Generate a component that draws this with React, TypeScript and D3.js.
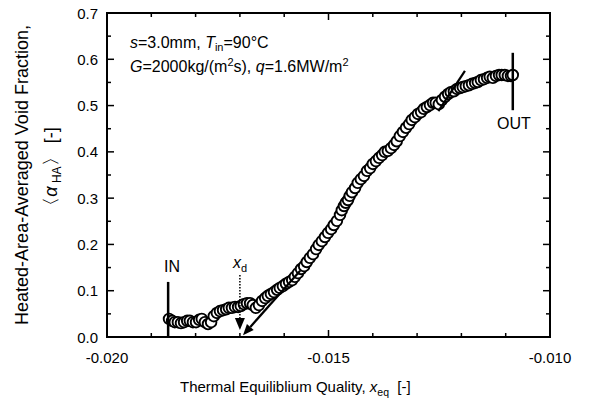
import React from "react";
import * as d3 from "d3";

// ---- data ----
const xeq = [
  -0.0186, -0.01853, -0.01847, -0.0184, -0.01833, -0.01826, -0.01819, -0.01813, -0.01806, -0.01799,
  -0.01792, -0.01786, -0.01779, -0.01772, -0.01765, -0.01759, -0.01752, -0.01745, -0.01738, -0.01731,
  -0.01725, -0.01718, -0.01711, -0.01704, -0.01698, -0.01691, -0.01684, -0.01677, -0.01671, -0.01664,
  -0.01657, -0.0165, -0.01643, -0.01637, -0.0163, -0.01623, -0.01616, -0.0161, -0.01603, -0.01596,
  -0.01589, -0.01582, -0.01576, -0.01569, -0.01562, -0.01555, -0.01549, -0.01542, -0.01535, -0.01528,
  -0.01522, -0.01515, -0.01508, -0.01501, -0.01494, -0.01488, -0.01481, -0.01474, -0.0147, -0.01465,
  -0.01461, -0.01456, -0.01452, -0.01447, -0.0144, -0.01434, -0.01427, -0.0142, -0.01413, -0.01406,
  -0.014, -0.01393, -0.01386, -0.01379, -0.01373, -0.01366, -0.01359, -0.01352, -0.01346, -0.01339,
  -0.01332, -0.01325, -0.01318, -0.01312, -0.01305, -0.01298, -0.01291, -0.01285, -0.01278, -0.01271,
  -0.01264, -0.01258, -0.01251, -0.01244, -0.01237, -0.0123, -0.01224, -0.01217, -0.0121, -0.01203,
  -0.01197, -0.0119, -0.01183, -0.01176, -0.01169, -0.01163, -0.01156, -0.01149, -0.01142, -0.01136,
  -0.01129, -0.01122, -0.01115, -0.01109, -0.01102, -0.01095, -0.01088, -0.01084,
];
const alphaHA = [
  0.039, 0.035, 0.032, 0.032, 0.03, 0.032, 0.035, 0.035, 0.032, 0.032,
  0.037, 0.039, 0.032, 0.028, 0.032, 0.045, 0.052, 0.056, 0.058, 0.06,
  0.063, 0.063, 0.065, 0.065, 0.067, 0.071, 0.073, 0.073, 0.069, 0.063,
  0.069, 0.078, 0.084, 0.089, 0.093, 0.097, 0.102, 0.106, 0.11, 0.115,
  0.119, 0.123, 0.13, 0.138, 0.147, 0.153, 0.162, 0.171, 0.179, 0.19,
  0.199, 0.207, 0.216, 0.225, 0.233, 0.242, 0.251, 0.264, 0.274, 0.283,
  0.29, 0.296, 0.305, 0.313, 0.322, 0.333, 0.341, 0.348, 0.359, 0.365,
  0.374, 0.38, 0.387, 0.393, 0.4, 0.402, 0.408, 0.415, 0.423, 0.434,
  0.443, 0.452, 0.46, 0.469, 0.475, 0.482, 0.486, 0.493, 0.497, 0.501,
  0.506, 0.506, 0.503, 0.512, 0.519, 0.525, 0.529, 0.531, 0.536, 0.538,
  0.54, 0.542, 0.544, 0.547, 0.549, 0.551, 0.555, 0.557, 0.56, 0.562,
  0.56, 0.564, 0.566, 0.566, 0.566, 0.564, 0.564, 0.566,
];
const xTickValues = [-0.02, -0.015, -0.01];
const xTickLabels = ["-0.020", "-0.015", "-0.010"];
const yTickValues = [0, 0.1, 0.2, 0.3, 0.4, 0.5, 0.6, 0.7];
const yTickLabels = ["0.0", "0.1", "0.2", "0.3", "0.4", "0.5", "0.6", "0.7"];

// annotations (data units)
const inMark = { x: -0.01862, y0: 0, y1: 0.119 };
const outMark = { x: -0.01084, y0: 0.49, y1: 0.614 };
const xdMark = { x: -0.017, yTop: 0.134, yBase: 0.041, yTip: 0.015 };
const lowerArrow = { x0: -0.01564, y0: 0.143, x1: -0.01693, y1: 0.004 };
const upperLine = { x0: -0.01252, y0: 0.488, x1: -0.01192, y1: 0.575 };

const W = 589;
const H = 400;
const M = { left: 107, right: 550, top: 13, bottom: 337 };
const FONT = "'Liberation Sans', Arial, Helvetica, sans-serif";

export default function App() {
  const x = d3.scaleLinear().domain([-0.02, -0.01]).range([M.left, M.right]);
  const y = d3.scaleLinear().domain([0, 0.7]).range([M.bottom, M.top]);
  const xMinor = x.ticks(10);
  const yMinor = y.ticks(14);
  const isMajorX = (v: number) => xTickValues.some((t) => Math.abs(t - v) < 1e-9);
  const isMajorY = (v: number) => yTickValues.some((t) => Math.abs(t - v) < 1e-9);

  const pts = xeq.map((v, i) => [x(v), y(alphaHA[i])] as [number, number]);

  // lower arrow head
  const ax0 = x(lowerArrow.x0), ay0 = y(lowerArrow.y0), ax1 = x(lowerArrow.x1), ay1 = y(lowerArrow.y1);
  const ang = Math.atan2(ay1 - ay0, ax1 - ax0);
  const hl = 11, hw = 4.5;
  const bx = ax1 - hl * Math.cos(ang), by = ay1 - hl * Math.sin(ang);
  const head = [
    [ax1, ay1],
    [bx + hw * Math.sin(ang), by - hw * Math.cos(ang)],
    [bx - hw * Math.sin(ang), by + hw * Math.cos(ang)],
  ];

  const tri = [
    [x(xdMark.x) - 5, y(xdMark.yBase)],
    [x(xdMark.x) + 5, y(xdMark.yBase)],
    [x(xdMark.x), y(xdMark.yTip)],
  ];

  return (
    <svg width={W} height={H} style={{ position: "absolute", left: 0, top: 0, background: "#fff" }} fontFamily={FONT}>
      <rect x={0} y={0} width={W} height={H} fill="#fff" />
      {/* ticks */}
      {xMinor.map((v, i) => {
        const len = isMajorX(v) ? 7 : 4;
        return (
          <g key={"xt" + i} stroke="#000" strokeWidth={1.5}>
            <line x1={x(v)} x2={x(v)} y1={M.bottom} y2={M.bottom - len} />
            <line x1={x(v)} x2={x(v)} y1={M.top} y2={M.top + len} />
          </g>
        );
      })}
      {yMinor.map((v, i) => {
        const len = isMajorY(v) ? 7 : 4;
        return (
          <g key={"yt" + i} stroke="#000" strokeWidth={1.5}>
            <line x1={M.left} x2={M.left + len} y1={y(v)} y2={y(v)} />
            <line x1={M.right} x2={M.right - len} y1={y(v)} y2={y(v)} />
          </g>
        );
      })}
      <rect x={M.left} y={M.top} width={M.right - M.left} height={M.bottom - M.top} fill="none" stroke="#000" strokeWidth={2} />

      {/* tick labels */}
      {xTickValues.map((v, i) => (
        <text key={"xl" + i} x={x(v)} y={363} textAnchor="middle" fontSize={15}>
          {xTickLabels[i]}
        </text>
      ))}
      {yTickValues.map((v, i) => (
        <text key={"yl" + i} x={98} y={y(v) + 5.5} textAnchor="end" fontSize={15}>
          {yTickLabels[i]}
        </text>
      ))}

      {/* axis titles */}
      <text x={180} y={392} fontSize={15}>
        Thermal Equiliblium Quality,{" "}
        <tspan fontStyle="italic">x</tspan>
        <tspan fontSize={10.5} dy={4}>eq</tspan>
        <tspan dy={-4}>{"\u00a0 [-]"}</tspan>
      </text>
      <g transform={`translate(28,${(M.top + M.bottom) / 2}) rotate(-90)`}>
        <text x={0} y={0} textAnchor="middle" fontSize={18}>
          Heated-Area-Averaged Void Fraction,
        </text>
      </g>
      <g transform={`translate(57,${(M.top + M.bottom) / 2 - 4}) rotate(-90)`}>
        <text x={0} y={0} textAnchor="middle" fontSize={18}>
          {"\u3008"}
          <tspan fontStyle="italic">{"\u03b1"}</tspan>
          <tspan fontSize={12} dy={4}>{" HA"}</tspan>
          <tspan dy={-4}>{"\u3009 [-]"}</tspan>
        </text>
      </g>

      {/* data */}
      {pts.map((p, i) => (
        <circle key={"c" + i} cx={p[0]} cy={p[1]} r={5.3} fill="#fff" stroke="#000" strokeWidth={1.9} />
      ))}

      {/* annotations */}
      <line x1={x(inMark.x)} x2={x(inMark.x)} y1={y(inMark.y0)} y2={y(inMark.y1)} stroke="#000" strokeWidth={2.5} />
      <text x={164} y={272} fontSize={16}>IN</text>
      <line x1={x(outMark.x)} x2={x(outMark.x)} y1={y(outMark.y0)} y2={y(outMark.y1)} stroke="#000" strokeWidth={2.5} />
      <text x={514} y={129} fontSize={16} textAnchor="middle">OUT</text>

      <line x1={x(xdMark.x)} x2={x(xdMark.x)} y1={y(xdMark.yTop)} y2={y(xdMark.yBase)} stroke="#000" strokeWidth={1.5} strokeDasharray="1.5,1.5" />
      <polygon points={tri.map((p) => p.join(",")).join(" ")} fill="#000" />
      <text x={233} y={268} fontSize={16}>
        <tspan fontStyle="italic">x</tspan>
        <tspan fontSize={11} dy={4}>d</tspan>
      </text>

      <line x1={ax0} y1={ay0} x2={bx} y2={by} stroke="#000" strokeWidth={2.2} />
      <polygon points={head.map((p) => p.join(",")).join(" ")} fill="#000" />
      <line x1={x(upperLine.x0)} y1={y(upperLine.y0)} x2={x(upperLine.x1)} y2={y(upperLine.y1)} stroke="#000" strokeWidth={2.2} />

      {/* conditions */}
      <text x={130} y={48} fontSize={16}>
        <tspan fontStyle="italic">s</tspan>=3.0mm,{" "}
        <tspan fontStyle="italic">T</tspan>
        <tspan fontSize={11} dy={3}>in</tspan>
        <tspan dy={-3}>=90°C</tspan>
      </text>
      <text x={130} y={72} fontSize={16}>
        <tspan fontStyle="italic">G</tspan>=2000kg/(m
        <tspan fontSize={11} dy={-6}>2</tspan>
        <tspan dy={6}>s), </tspan>
        <tspan fontStyle="italic">q</tspan>=1.6MW/m
        <tspan fontSize={11} dy={-6}>2</tspan>
      </text>
    </svg>
  );
}
